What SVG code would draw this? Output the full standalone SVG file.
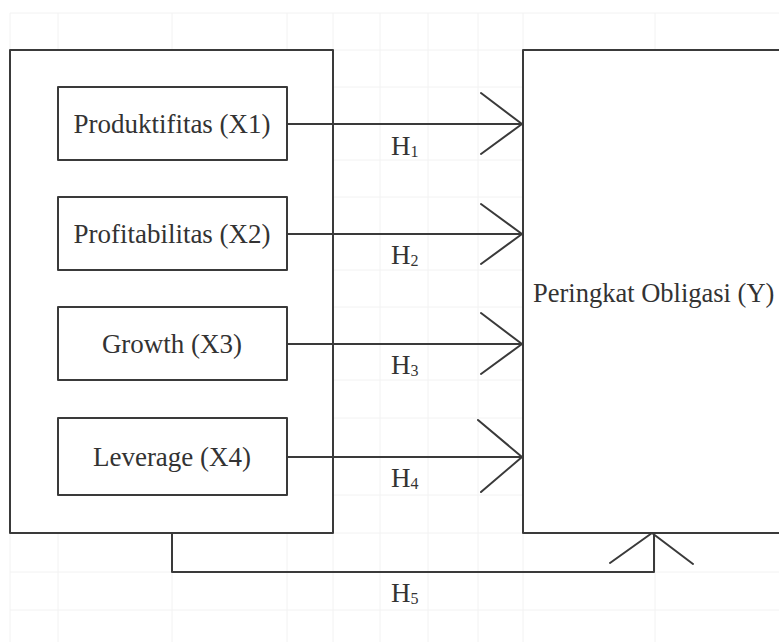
<svg xmlns="http://www.w3.org/2000/svg" width="779" height="642" viewBox="0 0 779 642">
<style>
.grid{stroke:#f2f2f2;stroke-width:1;fill:none}
.box{fill:#fff;stroke:#3a3a3a;stroke-width:2;stroke-linejoin:round}
.ln{fill:none;stroke:#3a3a3a;stroke-width:2;stroke-linecap:round;stroke-linejoin:round}
</style>
<rect width="779" height="642" fill="#fff"/>
<g class="grid">
<path d="M10 13V642M58 13V642M172 13V642M287 13V642M333 13V642M380 13V642M428 13V642M478 13V642M523 13V642M655 13V642M10 13H779M10 50H779M10 87H779M10 124H779M10 160H779M10 197H779M10 234H779M10 270H779M10 307H779M10 344H779M10 380H779M10 418H779M10 457H779M10 495H779M10 533H779M10 572H779M10 610H779"/>
</g>
<g font-family="Liberation Serif" fill="#333" font-size="27">
<g id="group-left"><rect class="box" x="10" y="50" width="323" height="483"/></g>
<g id="node-y">
<path class="box" d="M779 50H523V533H779"/>
<text x="533" y="302" font-size="26.5" font-family="Liberation Serif">Peringkat Obligasi (Y)</text>
</g>
<g id="node-x1"><rect class="box" x="58" y="87" width="229" height="73"/><text x="172" y="133" text-anchor="middle" font-family="Liberation Serif">Produktifitas (X1)</text></g>
<g id="node-x2"><rect class="box" x="58" y="197" width="229" height="73"/><text x="172" y="243" text-anchor="middle" font-family="Liberation Serif">Profitabilitas (X2)</text></g>
<g id="node-x3"><rect class="box" x="58" y="307" width="229" height="73"/><text x="172" y="353" text-anchor="middle" font-family="Liberation Serif">Growth (X3)</text></g>
<g id="node-x4"><rect class="box" x="58" y="418" width="229" height="77"/><text x="172" y="466" text-anchor="middle" font-family="Liberation Serif">Leverage (X4)</text></g>
<g id="connectors">
<path class="ln" d="M287 124H522M481 93L522 124L481 154"/>
<path class="ln" d="M287 234H522M481 204L522 234L481 264"/>
<path class="ln" d="M287 344H522M481 313L522 344L481 374"/>
<path class="ln" d="M287 457H522M478 420L522 457L481 492"/>
<path class="ln" d="M172 533V572H654V534M610 563L652 533L693 564"/>
<text x="391" y="155" font-family="Liberation Serif">H<tspan font-size="16" dy="2">1</tspan></text>
<text x="391" y="264" font-family="Liberation Serif">H<tspan font-size="16" dy="2">2</tspan></text>
<text x="391" y="374" font-family="Liberation Serif">H<tspan font-size="16" dy="2">3</tspan></text>
<text x="391" y="487" font-family="Liberation Serif">H<tspan font-size="16" dy="2">4</tspan></text>
<text x="391" y="602" font-family="Liberation Serif">H<tspan font-size="16" dy="2">5</tspan></text>
</g>
</g>
</svg>
